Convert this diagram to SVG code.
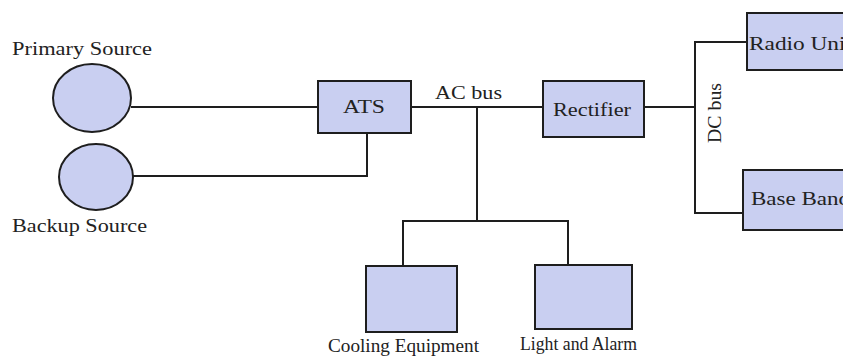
<svg xmlns="http://www.w3.org/2000/svg" width="843" height="358" viewBox="0 0 843 358">
<style>
.n{fill:#c9cff1;stroke:#1e1e1e;stroke-width:2}
.c{fill:none;stroke:#1e1e1e;stroke-width:2}
text{font-family:"Liberation Serif","Times New Roman",serif;font-size:19px;fill:#222}
</style>
<rect width="843" height="358" fill="#fff"/>
<g id="connectors">
<path class="c" d="M131,107 H318"/>
<path class="c" d="M133,176 H367 V133"/>
<path class="c" d="M411,107 H543"/>
<path class="c" d="M477,107 V221"/>
<path class="c" d="M403,266 V221 H568 V265"/>
<path class="c" d="M644,107 H695"/>
<path class="c" d="M747,42 H695 V213 H743"/>
</g>
<g id="primary-source">
<ellipse class="n" cx="92" cy="98" rx="39" ry="34"/>
<text x="12" y="55" textLength="140" lengthAdjust="spacingAndGlyphs">Primary Source</text>
</g>
<g id="backup-source">
<ellipse class="n" cx="96" cy="177" rx="37" ry="33"/>
<text x="12" y="232" textLength="135" lengthAdjust="spacingAndGlyphs">Backup Source</text>
</g>
<g id="ats">
<rect class="n" x="318" y="81" width="93" height="52"/>
<text x="343" y="113" textLength="42" lengthAdjust="spacingAndGlyphs">ATS</text>
</g>
<g id="ac-bus">
<text x="435" y="99" textLength="67" lengthAdjust="spacingAndGlyphs">AC bus</text>
</g>
<g id="rectifier">
<rect class="n" x="543" y="81" width="101" height="56"/>
<text x="553" y="116" textLength="78" lengthAdjust="spacingAndGlyphs">Rectifier</text>
</g>
<g id="dc-bus">
<text transform="translate(721,143) rotate(-90)" textLength="60" lengthAdjust="spacingAndGlyphs">DC bus</text>
</g>
<g id="radio-unit">
<rect class="n" x="747" y="13" width="110" height="57"/>
<text x="749" y="50" textLength="103" lengthAdjust="spacingAndGlyphs">Radio Unit</text>
</g>
<g id="base-band">
<rect class="n" x="743" y="170" width="110" height="60"/>
<text x="751" y="205" textLength="99" lengthAdjust="spacingAndGlyphs">Base Band</text>
</g>
<g id="cooling-equipment">
<rect class="n" x="366" y="266" width="91" height="66"/>
<text x="328" y="352" textLength="151" lengthAdjust="spacingAndGlyphs">Cooling Equipment</text>
</g>
<g id="light-and-alarm">
<rect class="n" x="535" y="265" width="97" height="64"/>
<text x="520" y="350" textLength="117" lengthAdjust="spacingAndGlyphs">Light and Alarm</text>
</g>
</svg>
